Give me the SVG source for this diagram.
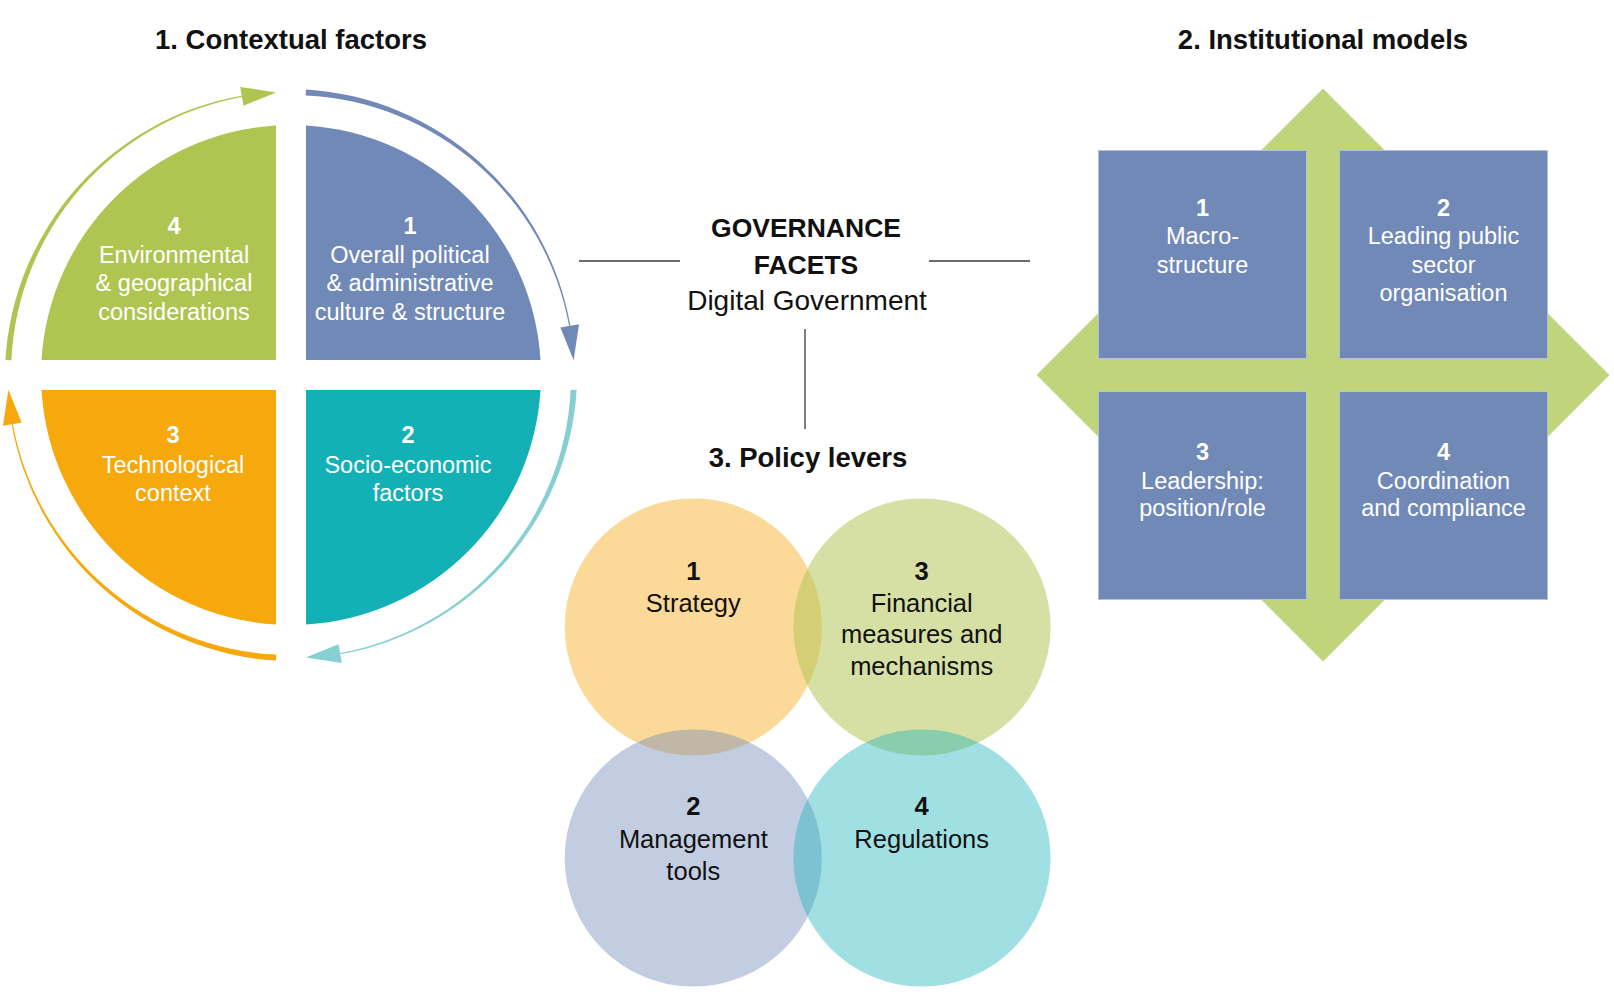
<svg xmlns="http://www.w3.org/2000/svg" width="1614" height="1004" viewBox="0 0 1614 1004">
<style>
text{font-family:"Liberation Sans",Arial,sans-serif;text-anchor:middle}
.title{font-size:27.5px;font-weight:bold;fill:#111}
.wq{font-size:23.5px;fill:#fff}
.wn{font-size:23.5px;fill:#fff;font-weight:bold}
.dk{font-size:25.5px;fill:#111}
.dn{font-size:25.5px;fill:#111;font-weight:bold}
.conn{stroke:#3a3a3a;stroke-width:1.3;fill:none}
.sq{fill:#7189b7;stroke:#b3c0dc;stroke-width:1}
</style>
<rect width="1614" height="1004" fill="#fff"/>

<text class="title" x="291" y="49">1. Contextual factors</text>
<text class="title" x="1323" y="49">2. Institutional models</text>

<g id="contextual-factors">
  <g id="cf-ring">
    <path d="M5.39,360.03 A286,286 0 0 1 241.75,95.71 L241.96,96.89 A281,281 0 0 0 11.38,360.34 Z" fill="#b0c452"/>
    <polygon points="276.19,92.39 243.51,105.65 240.21,86.94" fill="#b0c452"/>
    <path d="M305.97,89.39 A286,286 0 0 1 570.29,325.75 L569.11,325.96 A281,281 0 0 0 305.66,95.38 Z" fill="#7189b7"/>
    <polygon points="573.61,360.19 560.35,327.51 579.06,324.21" fill="#7189b7"/>
    <path d="M576.61,389.97 A286,286 0 0 1 340.25,654.29 L340.04,653.11 A281,281 0 0 0 570.62,389.66 Z" fill="#86cfd2"/>
    <polygon points="305.81,657.61 338.49,644.35 341.79,663.06" fill="#86cfd2"/>
    <path d="M276.03,660.61 A286,286 0 0 1 11.71,424.25 L12.89,424.04 A281,281 0 0 0 276.34,654.62 Z" fill="#f6a80c"/>
    <polygon points="8.39,389.81 21.65,422.49 2.94,425.79" fill="#f6a80c"/>
  </g>
  <g id="cf-1">
    <path d="M306,360 L306,125.5 A250,250 0 0 1 540.5,360 Z" fill="#7189b7"/>
    <text class="wn" x="410" y="234">1</text>
    <text class="wq" x="410" y="263">Overall political</text>
    <text class="wq" x="410" y="291">&amp; administrative</text>
    <text class="wq" x="410" y="319.5">culture &amp; structure</text>
  </g>
  <g id="cf-2">
    <path d="M306,390 L306,624.5 A250,250 0 0 0 540.5,390 Z" fill="#13b1b6"/>
    <text class="wn" x="408" y="443">2</text>
    <text class="wq" x="408" y="472.5">Socio-economic</text>
    <text class="wq" x="408" y="501">factors</text>
  </g>
  <g id="cf-3">
    <path d="M276,390 L276,624.5 A250,250 0 0 1 41.5,390 Z" fill="#f6a80c"/>
    <text class="wn" x="173" y="443">3</text>
    <text class="wq" x="173" y="472.5">Technological</text>
    <text class="wq" x="173" y="501">context</text>
  </g>
  <g id="cf-4">
    <path d="M276,360 L276,125.5 A250,250 0 0 0 41.5,360 Z" fill="#b0c452"/>
    <text class="wn" x="174" y="234">4</text>
    <text class="wq" x="174" y="263">Environmental</text>
    <text class="wq" x="174" y="291">&amp; geographical</text>
    <text class="wq" x="174" y="319.5">considerations</text>
  </g>
</g>

<g id="connectors">
  <line class="conn" x1="579" y1="261" x2="680" y2="261"/>
  <line class="conn" x1="929" y1="261" x2="1030" y2="261"/>
  <line class="conn" x1="805" y1="329" x2="805" y2="429"/>
</g>

<g id="governance-facets">
  <text x="806" y="237" style="font-size:26.5px;font-weight:bold;fill:#111">GOVERNANCE</text>
  <text x="806" y="274" style="font-size:26.5px;font-weight:bold;fill:#111">FACETS</text>
  <text x="807" y="310" style="font-size:28px;fill:#111">Digital Government</text>
</g>

<g id="institutional-models">
  <polygon points="1323,88.5 1609.5,375 1323,661.5 1036.5,375" fill="#c0d47c"/>
  <g id="im-1">
    <rect class="sq" x="1098.5" y="150.5" width="208" height="208"/>
    <text class="wn" x="1202.5" y="215.5">1</text>
    <text class="wq" x="1202.5" y="244">Macro-</text>
    <text class="wq" x="1202.5" y="272.5">structure</text>
  </g>
  <g id="im-2">
    <rect class="sq" x="1339.5" y="150.5" width="208" height="208"/>
    <text class="wn" x="1443.5" y="215.5">2</text>
    <text class="wq" x="1443.5" y="244">Leading public</text>
    <text class="wq" x="1443.5" y="272.5">sector</text>
    <text class="wq" x="1443.5" y="301">organisation</text>
  </g>
  <g id="im-3">
    <rect class="sq" x="1098.5" y="391.5" width="208" height="208"/>
    <text class="wn" x="1202.5" y="460">3</text>
    <text class="wq" x="1202.5" y="489">Leadership:</text>
    <text class="wq" x="1202.5" y="516">position/role</text>
  </g>
  <g id="im-4">
    <rect class="sq" x="1339.5" y="391.5" width="208" height="208"/>
    <text class="wn" x="1443.5" y="460">4</text>
    <text class="wq" x="1443.5" y="489">Coordination</text>
    <text class="wq" x="1443.5" y="516">and compliance</text>
  </g>
</g>

<g id="policy-levers">
  <text class="title" x="808" y="467">3. Policy levers</text>
  <g id="pl-1">
    <circle cx="693.3" cy="627" r="128.6" fill="#f6a80c" fill-opacity="0.42"/>
  </g>
  <g id="pl-3">
    <circle cx="922" cy="627" r="128.6" fill="#b0c452" fill-opacity="0.52"/>
  </g>
  <g id="pl-2">
    <circle cx="693.3" cy="858" r="128.6" fill="#7189b7" fill-opacity="0.42"/>
  </g>
  <g id="pl-4">
    <circle cx="922" cy="858" r="128.6" fill="#13b1b6" fill-opacity="0.4"/>
  </g>
  <g id="pl-labels">
    <text class="dn" x="693.3" y="579.5">1</text>
    <text class="dk" x="693.3" y="611.5">Strategy</text>
    <text class="dn" x="921.7" y="579.5">3</text>
    <text class="dk" x="921.7" y="611.5">Financial</text>
    <text class="dk" x="921.7" y="643.3">measures and</text>
    <text class="dk" x="921.7" y="675">mechanisms</text>
    <text class="dn" x="693.3" y="815">2</text>
    <text class="dk" x="693.3" y="848.3">Management</text>
    <text class="dk" x="693.3" y="879.5">tools</text>
    <text class="dn" x="921.7" y="815">4</text>
    <text class="dk" x="921.7" y="848.3">Regulations</text>
  </g>
</g>
</svg>
